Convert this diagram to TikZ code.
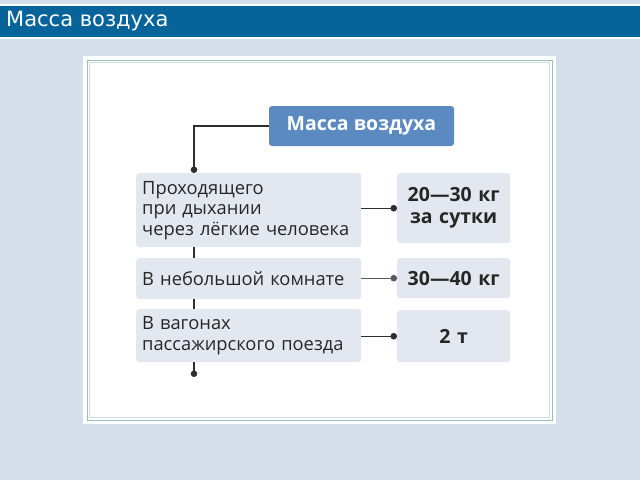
\documentclass[tikz,border=0pt]{standalone}
\usepackage{fontspec}
\setmainfont{Open Sans}
\newfontfamily\barfont{DejaVu Sans}
\usetikzlibrary{arrows.meta}

\definecolor{pagebg}{HTML}{D4DFE9}
\definecolor{barblue}{HTML}{06649A}
\definecolor{headblue}{HTML}{5A8AC0}
\definecolor{boxgrey}{HTML}{E3E8F0}
\definecolor{framegreen}{HTML}{9DBDB7}
\definecolor{linegrey}{HTML}{2E2E2E}

\tikzset{
  leftbox/.style={fill=boxgrey, rounded corners=3pt, anchor=north west,
    minimum width=225pt, text width=213pt, inner xsep=6pt, align=left,
    font=\fontsize{18.3}{20.5}\selectfont, text=black!85},
  rightbox/.style={fill=boxgrey, rounded corners=3pt, anchor=north west,
    minimum width=113pt, text width=109pt, inner xsep=2pt, align=center,
    font=\fontsize{19.5}{22}\selectfont\bfseries, text=black!85},
  link/.style={draw=linegrey, line width=1.2pt, -{Circle[length=6.5pt]}},
  tick/.style={draw=linegrey, line width=1.2pt}
}

\begin{document}
\begin{tikzpicture}[x=1pt, y=-1pt]
        % page and title bar
        \fill[pagebg] (0, 0) rectangle (640, 480);
        \useasboundingbox (0, 0) rectangle (640, 480);
        \fill[white] (0, 4) rectangle (640, 39);
        \fill[barblue] (0, 6) rectangle (640, 37);
        \node[anchor=west, text=white, font=\barfont\fontsize{21}{24}\selectfont,
            inner sep=0pt] (bartitle) at (6, 21) {Масса воздуха};

        % white panel with double frame
        \fill[white] (83, 56) rectangle (556, 424);
        \draw[framegreen, line width=1pt] (87, 60) rectangle (552, 420);
        \draw[framegreen!50, line width=0.8pt] (89.5, 62.5) rectangle (549.5, 417.5);

        % head
        \node[fill=headblue, rounded corners=3pt, minimum width=185pt, minimum height=40pt,
            text=white, font=\fontsize{19.5}{22}\selectfont\bfseries] (mass) at (361.5, 126) {Масса воздуха};

        % left column
        \node[leftbox, minimum height=74pt] (breath) at (136, 173)
            {Проходящего\\при дыхании\\через лёгкие человека};
        \node[leftbox, minimum height=41pt] (room) at (136, 258)
            {В небольшой комнате};
        \node[leftbox, minimum height=53pt] (train) at (136, 309)
            {В вагонах\\пассажирского поезда};

        % right column
        \node[rightbox, minimum height=70pt] (daily) at (397, 173)
            {20—30 кг\\за сутки};
        \node[rightbox, minimum height=40pt] (roommass) at (397, 258)
            {30—40 кг};
        \node[rightbox, minimum height=52pt] (trainmass) at (397, 310)
            {2 т};

        % spine
        \coordinate (spine) at (194, 173);
        \coordinate (spineend) at (194, 377);
        \draw[link] (mass.west) -| (spine);
        \draw[tick] (breath.south -| spine) -- (room.north -| spine);
        \draw[tick] (room.south -| spine) -- (train.north -| spine);
        \draw[link] (train.south -| spine) -- (spineend);

        % links to values
        \draw[link] (breath.east |- daily.west) -- (daily.west);
        \draw[link, line width=0.7pt, draw=linegrey!80] (room.east |- roommass.west) -- (roommass.west);
        \draw[link] (train.east |- trainmass.west) -- (trainmass.west);
    \end{tikzpicture}
\end{document}
